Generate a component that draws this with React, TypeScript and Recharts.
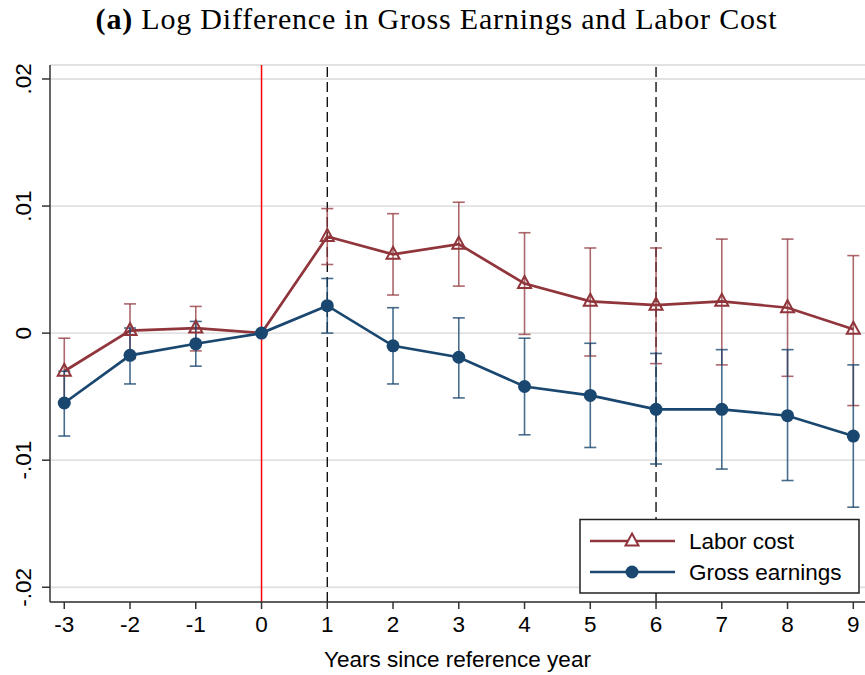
import React from 'react';
import {
  LineChart,
  Line,
  XAxis,
  YAxis,
  CartesianGrid,
  ReferenceLine,
  ErrorBar,
} from 'recharts';

const years = [-3, -2, -1, 0, 1, 2, 3, 4, 5, 6, 7, 8, 9];

const laborCost = [-0.003, 0.0002, 0.0004, 0, 0.0076, 0.0062, 0.007, 0.0039, 0.0025, 0.0022, 0.0025, 0.002, 0.0003];
const laborLow = [-0.0056, -0.002, -0.0014, 0, 0.0054, 0.003, 0.0037, -0.0001, -0.0018, -0.0024, -0.0025, -0.0034, -0.0057];
const laborHigh = [-0.0004, 0.0023, 0.0021, 0, 0.0098, 0.0094, 0.0103, 0.0079, 0.0067, 0.0067, 0.0074, 0.0074, 0.0061];

const grossEarnings = [-0.0055, -0.00175, -0.00084, 0, 0.00216, -0.001, -0.0019, -0.0042, -0.0049, -0.006, -0.006, -0.0065, -0.0081];
const grossLow = [-0.0081, -0.004, -0.0026, 0, 0.0, -0.004, -0.0051, -0.008, -0.009, -0.0103, -0.0107, -0.0116, -0.0137];
const grossHigh = [-0.003, 0.0004, 0.00092, 0, 0.0043, 0.002, 0.0012, -0.0004, -0.0008, -0.0016, -0.0013, -0.0013, -0.0025];

const xTicks = [-3, -2, -1, 0, 1, 2, 3, 4, 5, 6, 7, 8, 9];
const yTicks = [-0.02, -0.01, 0, 0.01, 0.02];
const yTickLabels: Record<string, string> = {
  '-0.02': '-.02',
  '-0.01': '-.01',
  '0': '0',
  '0.01': '.01',
  '0.02': '.02',
};

const seriesNames = ['Labor cost', 'Gross earnings'];
const titleText = 'Log Difference in Gross Earnings and Labor Cost';
const xLabel = 'Years since reference year';

const RED = '#90353B';
const BLUE = '#1A476F';
const FONT = '"Liberation Sans", Arial, sans-serif';
const FS = 22.5;

const data = years.map((yr, i) => ({
  year: yr,
  labor: laborCost[i],
  laborErr: yr === 0 ? null : [laborCost[i] - laborLow[i], laborHigh[i] - laborCost[i]],
  gross: grossEarnings[i],
  grossErr: yr === 0 ? null : [grossEarnings[i] - grossLow[i], grossHigh[i] - grossEarnings[i]],
}));

const triPath = (cx: number, cy: number) =>
  `M${cx},${cy - 7.5} L${cx + 6.5},${cy + 4.5} L${cx - 6.5},${cy + 4.5} Z`;

const TriangleDot = (props: any) => {
  const { cx, cy, payload, index } = props;
  if (payload && payload.year === 0) return <g key={`t-${index}`} />;
  return (
    <path key={`t-${index}`} d={triPath(cx, cy)} fill="none" stroke={RED} strokeWidth={2} strokeLinejoin="miter" />
  );
};

const CircleDot = (props: any) => {
  const { cx, cy, index } = props;
  return <circle key={`c-${index}`} cx={cx} cy={cy} r={6.5} fill={BLUE} stroke="none" />;
};

const YTick = (props: any) => {
  const { x, y, payload } = props;
  const label = yTickLabels[String(payload.value)] ?? String(payload.value);
  const bx = x - 8.5;
  return (
    <text
      x={bx}
      y={y}
      transform={`rotate(-90, ${bx}, ${y})`}
      textAnchor="middle"
      fontFamily={FONT}
      fontSize={FS}
      fill="#000"
    >
      {label}
    </text>
  );
};

export default function App() {
  return (
    <div style={{ position: 'absolute', left: 0, top: 0, width: 865, height: 675, background: '#fff' }}>
      <div
        style={{
          position: 'absolute',
          left: 0,
          top: 2,
          width: 873,
          textAlign: 'center',
          fontFamily: '"Liberation Serif", "Times New Roman", serif',
          fontSize: 30,
          letterSpacing: 0.8,
          color: '#000',
          whiteSpace: 'nowrap',
        }}
      >
        <b>(a)</b> {titleText}
      </div>
      <LineChart
        width={865}
        height={675}
        data={data}
        margin={{ top: 65, right: 0, bottom: 0, left: 8 }}
      >
        <CartesianGrid horizontal vertical={false} stroke="#E2E2E2" strokeWidth={1.8} />
        <XAxis
          dataKey="year"
          type="number"
          domain={[-3.217, 9.178]}
          ticks={xTicks}
          allowDataOverflow
          interval={0}
          height={73}
          tickSize={7}
          tickMargin={7}
          stroke="#333"
          strokeWidth={1.5}
          tick={{ fontFamily: FONT, fontSize: FS, fill: '#000' }}
          tickLine={{ stroke: '#333', strokeWidth: 1.5 }}
          label={{ value: xLabel, position: 'insideBottom', offset: 8, fontFamily: FONT, fontSize: FS, fill: '#000' }}
        />
        <YAxis
          type="number"
          domain={[-0.02116, 0.0211]}
          ticks={yTicks}
          allowDataOverflow
          interval={0}
          width={42}
          tickSize={8}
          stroke="#333"
          strokeWidth={1.5}
          tick={<YTick />}
          tickLine={{ stroke: '#333', strokeWidth: 1.5 }}
        />
        <ReferenceLine x={0} stroke="#FF0000" strokeWidth={1.5} />
        <ReferenceLine x={1} stroke="#000" strokeWidth={1.3} strokeDasharray="10 5" />
        <ReferenceLine x={6} stroke="#000" strokeWidth={1.3} strokeDasharray="10 5" />
        <Line
          dataKey="labor"
          name={seriesNames[0]}
          stroke={RED}
          strokeWidth={2.7}
          type="linear"
          dot={TriangleDot}
          activeDot={false}
          isAnimationActive={false}
        >
          <ErrorBar dataKey="laborErr" width={6} strokeWidth={1.6} stroke={RED} strokeOpacity={0.75} direction="y" />
        </Line>
        <Line
          dataKey="gross"
          name={seriesNames[1]}
          stroke={BLUE}
          strokeWidth={2.7}
          type="linear"
          dot={CircleDot}
          activeDot={false}
          isAnimationActive={false}
        >
          <ErrorBar dataKey="grossErr" width={6} strokeWidth={1.6} stroke={BLUE} strokeOpacity={0.8} direction="y" />
        </Line>
      </LineChart>
      <svg
        style={{ position: 'absolute', left: 0, top: 0, pointerEvents: 'none' }}
        width={865}
        height={675}
      >
        <rect x={580} y={519.5} width={279} height={73.5} fill="#fff" stroke="#222" strokeWidth={1.5} />
        <line x1={590} y1={541} x2={675} y2={541} stroke={RED} strokeWidth={2.7} />
        <path d={triPath(632, 541)} fill="#fff" stroke={RED} strokeWidth={2} />
        <text x={689} y={541} dy="0.36em" fontFamily={FONT} fontSize={FS} fill="#000">
          {seriesNames[0]}
        </text>
        <line x1={590} y1={572} x2={675} y2={572} stroke={BLUE} strokeWidth={2.7} />
        <circle cx={632} cy={572} r={6.5} fill={BLUE} />
        <text x={689} y={572} dy="0.36em" fontFamily={FONT} fontSize={FS} fill="#000">
          {seriesNames[1]}
        </text>
      </svg>
    </div>
  );
}
